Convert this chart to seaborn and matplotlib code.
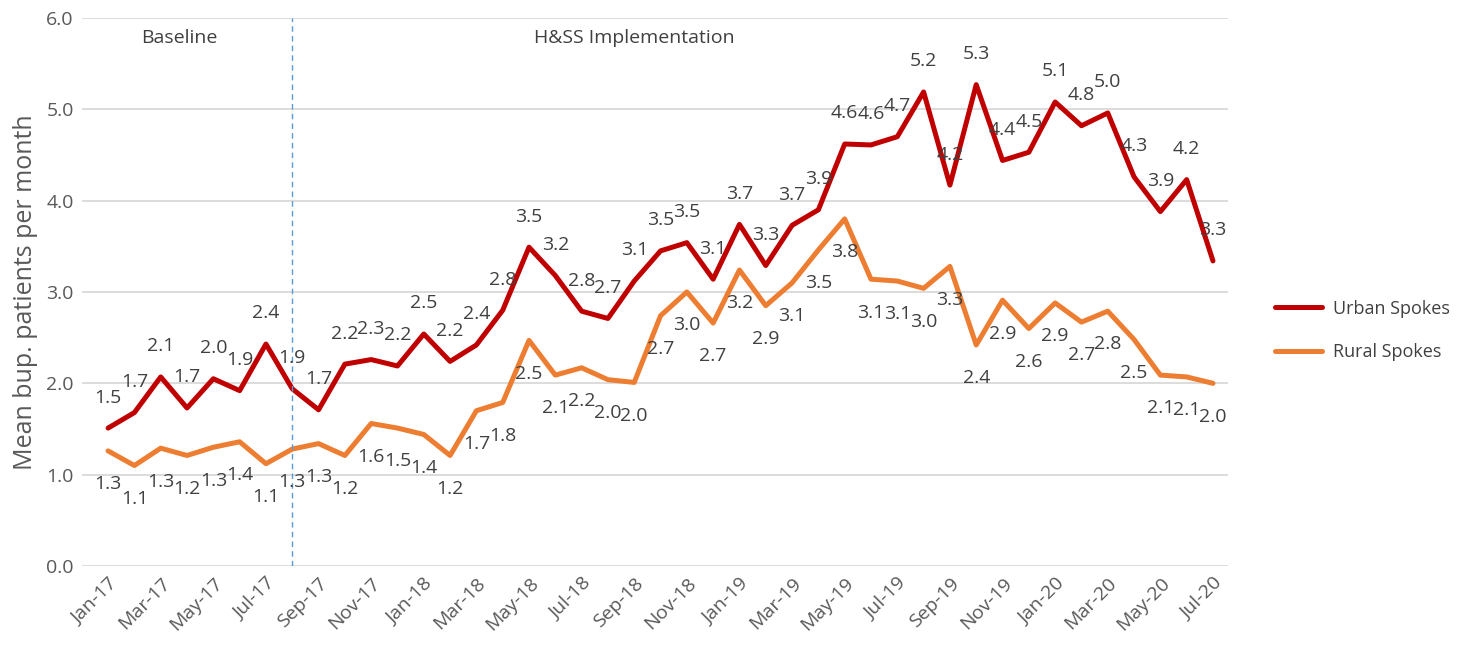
import numpy as np
import pandas as pd
import seaborn as sns
import matplotlib.pyplot as plt

months = pd.date_range("2017-01-01", "2020-07-01", freq="MS").strftime("%b-%y").tolist()

urban = [1.51, 1.68, 2.07, 1.73, 2.05, 1.92, 2.43, 1.94, 1.71, 2.21, 2.26, 2.19,
         2.54, 2.24, 2.42, 2.80, 3.49, 3.18, 2.79, 2.71, 3.12, 3.45, 3.54, 3.14,
         3.74, 3.29, 3.73, 3.90, 4.62, 4.61, 4.70, 5.19, 4.17, 5.27, 4.44, 4.53,
         5.08, 4.82, 4.96, 4.26, 3.88, 4.23, 3.34]
rural = [1.26, 1.10, 1.29, 1.21, 1.30, 1.36, 1.12, 1.28, 1.34, 1.21, 1.56, 1.51,
         1.44, 1.21, 1.70, 1.79, 2.47, 2.09, 2.17, 2.04, 2.01, 2.74, 3.00, 2.66,
         3.24, 2.85, 3.10, 3.46, 3.80, 3.14, 3.12, 3.04, 3.28, 2.42, 2.91, 2.60,
         2.88, 2.67, 2.79, 2.48, 2.09, 2.07, 2.00]

series = ["Urban Spokes", "Rural Spokes"]
colors = ["#C00000", "#ED7D31"]

df = pd.DataFrame({
    "idx": list(range(len(months))) * 2,
    "value": urban + rural,
    "series": [series[0]] * len(urban) + [series[1]] * len(rural),
})

sns.set_style("white")
plt.rcParams["font.family"] = ["Open Sans", "DejaVu Sans"]
txt = "#404040"
fs = 14

fig = plt.figure(figsize=(14.68, 6.49), dpi=100)
ax = fig.add_axes([0.0559, 0.1279, 0.7806, 0.8444])

sns.lineplot(data=df, x="idx", y="value", hue="series", palette=colors,
             linewidth=3.6, ax=ax, legend=True)

# data labels: urban above, rural below
for i, v in enumerate(urban):
    ax.annotate(f"{v:.1f}", (i, v), xytext=(0, 22), textcoords="offset points",
                ha="center", va="center", fontsize=fs, color=txt)
for i, v in enumerate(rural):
    ax.annotate(f"{v:.1f}", (i, v), xytext=(0, -24), textcoords="offset points",
                ha="center", va="center", fontsize=fs, color=txt)

ax.axvline(7, color="#5B9BD5", linestyle=(0, (4, 3)), linewidth=1)
ax.text(2.7, 5.78, "Baseline", ha="center", va="center", fontsize=fs, color=txt)
ax.text(20, 5.78, "H&SS Implementation", ha="center", va="center", fontsize=fs, color=txt)

ax.set_xlim(-0.99, 42.57)
ax.set_ylim(0, 6)
ax.set_yticks(np.arange(0, 6.1, 1.0))
ax.set_yticklabels([f"{t:.1f}" for t in np.arange(0, 6.1, 1.0)], fontsize=fs, color="#595959")
ax.set_xticks(range(0, len(months), 2))
ax.set_xticklabels(months[::2], rotation=45, ha="right", rotation_mode="anchor",
                   fontsize=fs, color="#595959")
ax.tick_params(axis="both", length=0, pad=6)
ax.grid(axis="y", color="#D9D9D9", linewidth=1.3)
ax.set_axisbelow(True)
for s in ax.spines.values():
    s.set_visible(False)

ax.set_xlabel("")
ax.set_ylabel("Mean bup. patients per month", fontsize=18, color="#595959", labelpad=6)

leg = ax.legend(loc="center left", bbox_to_anchor=(1.033, 0.43), frameon=False,
                fontsize=13, handlelength=2.6, handletextpad=0.6, labelspacing=1.4,
                borderpad=0)
for t in leg.get_texts():
    t.set_color(txt)
for h in leg.legend_handles:
    h.set_linewidth(3.6)

fig.savefig("out.png", dpi=100)
